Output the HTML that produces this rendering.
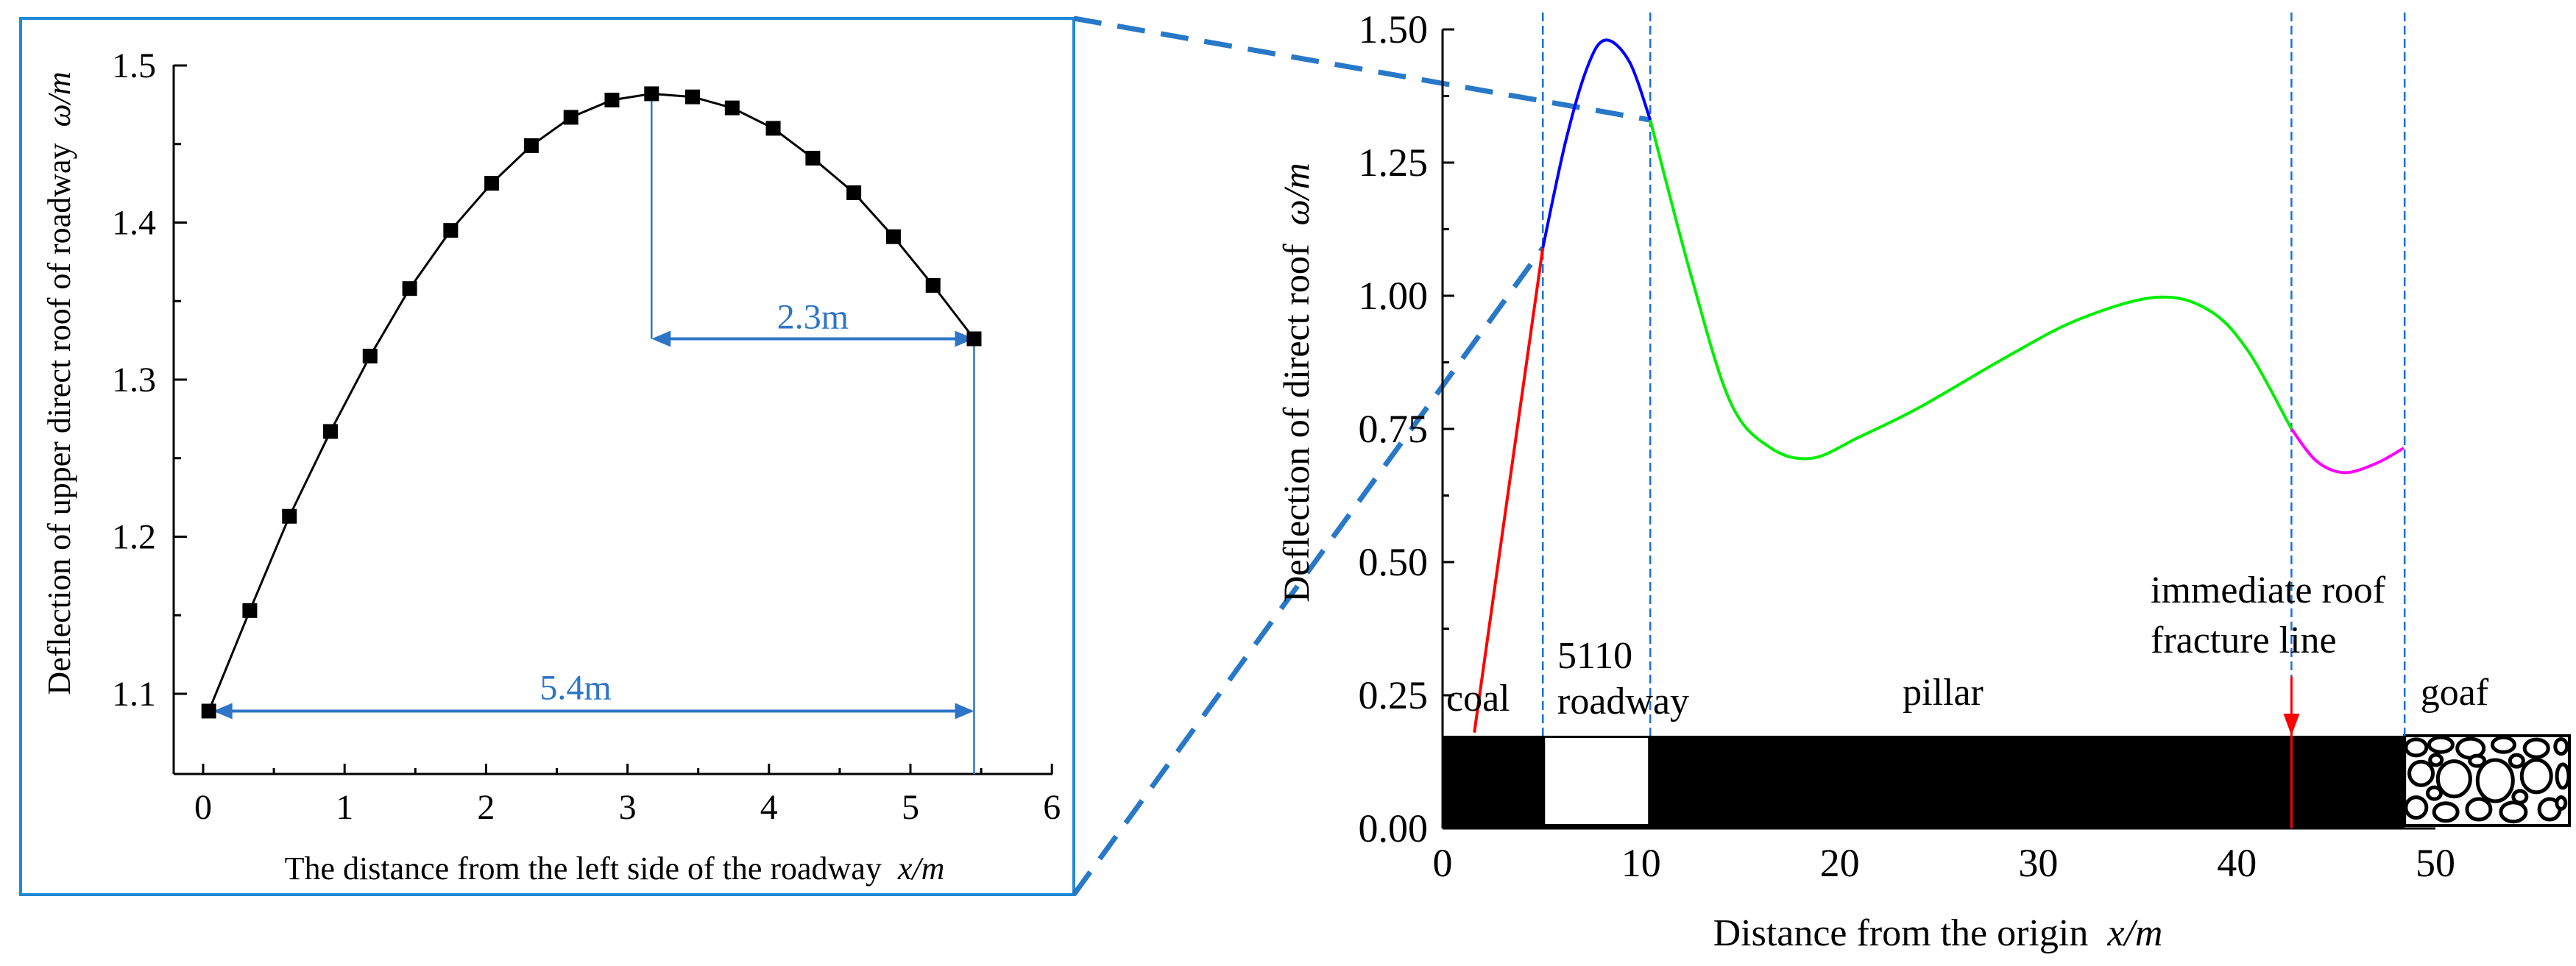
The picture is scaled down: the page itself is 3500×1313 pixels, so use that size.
<!DOCTYPE html>
<html><head><meta charset="utf-8"><style>
html,body{margin:0;padding:0;background:#fff;}
svg{display:block;font-family:"Liberation Serif",serif;}
</style></head><body>
<svg id="fig" width="3500" height="1313" viewBox="0 0 3500 1313" xmlns="http://www.w3.org/2000/svg">
<rect x="0" y="0" width="3500" height="1313" fill="#fff"/>
<rect x="28" y="25" width="1431" height="1191" fill="none" stroke="#1f8ad6" stroke-width="4"/>
<line x1="1459" y1="25" x2="2242" y2="163" stroke="#2878c8" stroke-width="7" stroke-dasharray="38,22"/>
<line x1="1459" y1="1216" x2="2096" y2="337" stroke="#2878c8" stroke-width="7" stroke-dasharray="38,22"/>
<g id="left"></g>
<g id="right"></g>
</svg>
<script>
// Left chart data
const lx = [0.04,0.33,0.61,0.90,1.18,1.46,1.75,2.04,2.32,2.60,2.89,3.17,3.46,3.74,4.03,4.31,4.60,4.88,5.16,5.45];
const ly = [1.089,1.153,1.213,1.267,1.315,1.358,1.395,1.425,1.449,1.467,1.478,1.482,1.480,1.473,1.460,1.441,1.419,1.391,1.360,1.326];
const lxTicks = [0,1,2,3,4,5,6];
const lyTicks = [1.1,1.2,1.3,1.4,1.5];
// Right chart data
const redX = [1.6,3.3,5.05];
const redY = [0.18,0.63,1.09];
const blueX = [5.05,6.2,7.3,8.2,9.4,10.46];
const blueY = [1.09,1.29,1.43,1.48,1.44,1.33];
const greenX = [10.46,12.5,14.5,16.5,18.6,21,24,28.4,32,35.9,38.5,40.5,42.75];
const greenY = [1.33,1.04,0.80,0.715,0.695,0.735,0.79,0.885,0.955,0.997,0.975,0.90,0.75];
const magX = [42.75,44,45.4,47,48.4];
const magY = [0.75,0.69,0.668,0.685,0.714];
const rxTicks = [0,10,20,30,40,50];
const ryTicks = [0,0.25,0.5,0.75,1.0,1.25,1.5];
const ryLabels = ["0.00","0.25","0.50","0.75","1.00","1.25","1.50"];
const zoneX = [5.05,10.46,42.75,48.45];
const barTop = 0.174;

const NS="http://www.w3.org/2000/svg";
function mk(p,t,a,txt){const e=document.createElementNS(NS,t);for(const k in a)e.setAttribute(k,a[k]);if(txt!==undefined)e.textContent=txt;p.appendChild(e);return e;}
function smooth(pts){let d=`M${pts[0][0]},${pts[0][1]}`;for(let i=0;i<pts.length-1;i++){const p0=pts[Math.max(0,i-1)],p1=pts[i],p2=pts[i+1],p3=pts[Math.min(pts.length-1,i+2)];const c1=[p1[0]+(p2[0]-p0[0])/6,p1[1]+(p2[1]-p0[1])/6],c2=[p2[0]-(p3[0]-p1[0])/6,p2[1]-(p3[1]-p1[1])/6];d+=`C${c1[0]},${c1[1]} ${c2[0]},${c2[1]} ${p2[0]},${p2[1]}`;}return d;}

// ---- Left chart
const L=document.getElementById('left');
const LX=v=>276+v*192.2, LY=v=>89+(1.5-v)*2135;
const AXY=1052;
let e;
e=mk(L,'line',{x1:236,y1:AXY,x2:1430,y2:AXY,stroke:'#000','stroke-width':3});

e=mk(L,'line',{x1:236,y1:AXY,x2:236,y2:LY(1.5)-1,stroke:'#000','stroke-width':3});

for(let i=0;i<=12;i++){const v=i*0.5,x=LX(v);mk(L,'line',{x1:x,y1:AXY,x2:x,y2:i%2===0?AXY-14:AXY-8,stroke:'#000','stroke-width':3});}
lxTicks.forEach(v=>{e=mk(L,'text',{x:LX(v),y:1113,'font-size':48,'text-anchor':'middle'},String(v));
});
for(let i=0;i<=8;i++){const v=1.1+i*0.05,y=LY(v);mk(L,'line',{x1:236,y1:y,x2:i%2===0?254:246,y2:y,stroke:'#000','stroke-width':3});}
lyTicks.forEach(v=>{e=mk(L,'text',{x:212,y:LY(v)+16,'font-size':48,'text-anchor':'end'},v.toFixed(1));
});
e=mk(L,'text',{x:0,y:0,'font-size':44,'text-anchor':'middle',transform:'translate(95,521) rotate(-90)'});
e.innerHTML='Deflection of upper direct roof of roadway&#160;&#160;<tspan font-style="italic">ω/m</tspan>';

e=mk(L,'text',{x:835,y:1195,'font-size':44,'text-anchor':'middle'});
e.innerHTML='The distance from the left side of the roadway&#160;&#160;<tspan font-style="italic">x/m</tspan>';

const BL='#2e75c8';
const pk=11, en=lx.length-1;
e=mk(L,'line',{x1:LX(lx[pk]),y1:LY(ly[pk]),x2:LX(lx[pk]),y2:LY(ly[en]),stroke:BL,'stroke-width':2.5});

e=mk(L,'line',{x1:LX(lx[en]),y1:LY(ly[en]),x2:LX(lx[en]),y2:AXY,stroke:BL,'stroke-width':2.5});

function arrow(x1,x2,y,name){const g=mk(L,'g',{});
mk(g,'line',{x1:x1+20,y1:y,x2:x2-20,y2:y,stroke:BL,'stroke-width':4});
mk(g,'polygon',{points:`${x1},${y} ${x1+26},${y-11} ${x1+26},${y+11}`,fill:BL});
mk(g,'polygon',{points:`${x2},${y} ${x2-26},${y-11} ${x2-26},${y+11}`,fill:BL});}
arrow(LX(lx[pk]),LX(lx[en]),LY(ly[en]),'dimension-2.3m');
arrow(LX(lx[0])+6,LX(lx[en]),LY(ly[0]),'dimension-5.4m');
e=mk(L,'text',{x:(LX(lx[pk])+LX(lx[en]))/2,y:LY(ly[en])-14,'font-size':48,'text-anchor':'middle',fill:BL},'2.3m');

e=mk(L,'text',{x:782,y:LY(ly[0])-16,'font-size':48,'text-anchor':'middle',fill:BL},'5.4m');

e=mk(L,'polyline',{points:lx.map((x,i)=>LX(x)+','+LY(ly[i])).join(' '),fill:'none',stroke:'#000','stroke-width':3});

lx.forEach((x,i)=>{e=mk(L,'rect',{x:LX(x)-10,y:LY(ly[i])-10,width:20,height:20,fill:'#000'});
});

// ---- Right chart
const R=document.getElementById('right');
const RX=v=>1960+v*26.98, RY=v=>1126-v*724;
e=mk(R,'rect',{x:RX(0),y:RY(barTop),width:RX(48.45)-RX(0),height:RY(0)-RY(barTop),fill:'#000'});

e=mk(R,'rect',{x:RX(zoneX[0])+3,y:RY(barTop)+3,width:RX(zoneX[1])-RX(zoneX[0])-6,height:RY(0)-RY(barTop)-9,fill:'#fff'});

const gg=mk(R,'g',{});
const gx0=RX(48.45),gx1=3491,gy0=RY(barTop),gy1=RY(0)-4;
mk(gg,'rect',{x:gx0,y:gy0,width:gx1-gx0,height:gy1-gy0,fill:'#fff'});
const peb=[[0.07,0.13,14,11],[0.22,0.1,16,10],[0.4,0.14,18,13],[0.6,0.1,15,10],[0.8,0.14,16,12],[0.95,0.12,8,10],[0.1,0.42,16,16],[0.3,0.48,22,24],[0.55,0.5,24,28],[0.8,0.45,20,22],[0.96,0.45,8,16],[0.07,0.8,14,14],[0.25,0.85,16,12],[0.45,0.82,16,14],[0.66,0.85,17,13],[0.88,0.82,14,14],[0.44,0.28,10,7],[0.19,0.27,8,7],[0.68,0.28,9,8],[0.18,0.64,9,8],[0.7,0.68,9,8],[0.95,0.75,6,8]];
peb.forEach(p=>mk(gg,'ellipse',{cx:gx0+p[0]*(gx1-gx0),cy:gy0+p[1]*(gy1-gy0),rx:p[2],ry:p[3],fill:'#fff',stroke:'#000','stroke-width':5}));
mk(gg,'rect',{x:gx0,y:gy0,width:gx1-gx0,height:gy1-gy0,fill:'none',stroke:'#000','stroke-width':4});
e=mk(R,'line',{x1:RX(0),y1:RY(0),x2:RX(50),y2:RY(0),stroke:'#000','stroke-width':3});

e=mk(R,'line',{x1:RX(0),y1:RY(0),x2:RX(0),y2:RY(1.5),stroke:'#000','stroke-width':3});

for(let i=0;i<=12;i++){const v=i*0.125;mk(R,'line',{x1:RX(0),y1:RY(v),x2:RX(0)+(i%2===0?16:9),y2:RY(v),stroke:'#000','stroke-width':3});}
rxTicks.forEach(v=>{e=mk(R,'text',{x:RX(v),y:1191,'font-size':54,'text-anchor':'middle'},String(v));
});
ryTicks.forEach((v,i)=>{e=mk(R,'text',{x:1940,y:RY(v)+18,'font-size':54,'text-anchor':'end'},ryLabels[i]);
});
e=mk(R,'text',{x:0,y:0,'font-size':50,'text-anchor':'middle',transform:'translate(1778,520) rotate(-90)'});
e.innerHTML='Deflection of direct roof&#160;&#160;<tspan font-style="italic">ω/m</tspan>';

e=mk(R,'text',{x:2633,y:1285,'font-size':52,'text-anchor':'middle'});
e.innerHTML='Distance from the origin&#160;&#160;<tspan font-style="italic">x/m</tspan>';

zoneX.forEach(v=>{e=mk(R,'line',{x1:RX(v),y1:17,x2:RX(v),y2:RY(barTop),stroke:'#1a6fe0','stroke-width':2.5,'stroke-dasharray':'12,6'});
});
function curve(xs,ys,col,name){const d=smooth(xs.map((x,i)=>[RX(x),RY(ys[i])]));e=mk(R,'path',{d:d,fill:'none',stroke:col,'stroke-width':4});
}
curve(redX,redY,'#ff0000','coal-curve');
curve(blueX,blueY,'#0000ff','roadway-curve');
curve(greenX,greenY,'#00ee00','pillar-curve');
curve(magX,magY,'#ff00ff','goaf-curve');
const fx=RX(zoneX[2]);
e=mk(R,'line',{x1:fx,y1:RY(0.285),x2:fx,y2:RY(0),stroke:'#ff0000','stroke-width':3});

e=mk(R,'polygon',{points:`${fx},${RY(barTop)} ${fx-11},${RY(barTop)-30} ${fx+11},${RY(barTop)-30}`,fill:'#ff0000'});

const lab=[['coal',1965,966,'start'],['5110',2116,908,'start'],['roadway',2116,970,'start'],['pillar',2640,958,'middle'],['immediate roof',2922,819,'start'],['fracture line',2922,887,'start'],['goaf',3335,958,'middle']];
lab.forEach(l=>{e=mk(R,'text',{x:l[1],y:l[2],'font-size':52,'text-anchor':l[3]},l[0]);
});
</script>
</body></html>
